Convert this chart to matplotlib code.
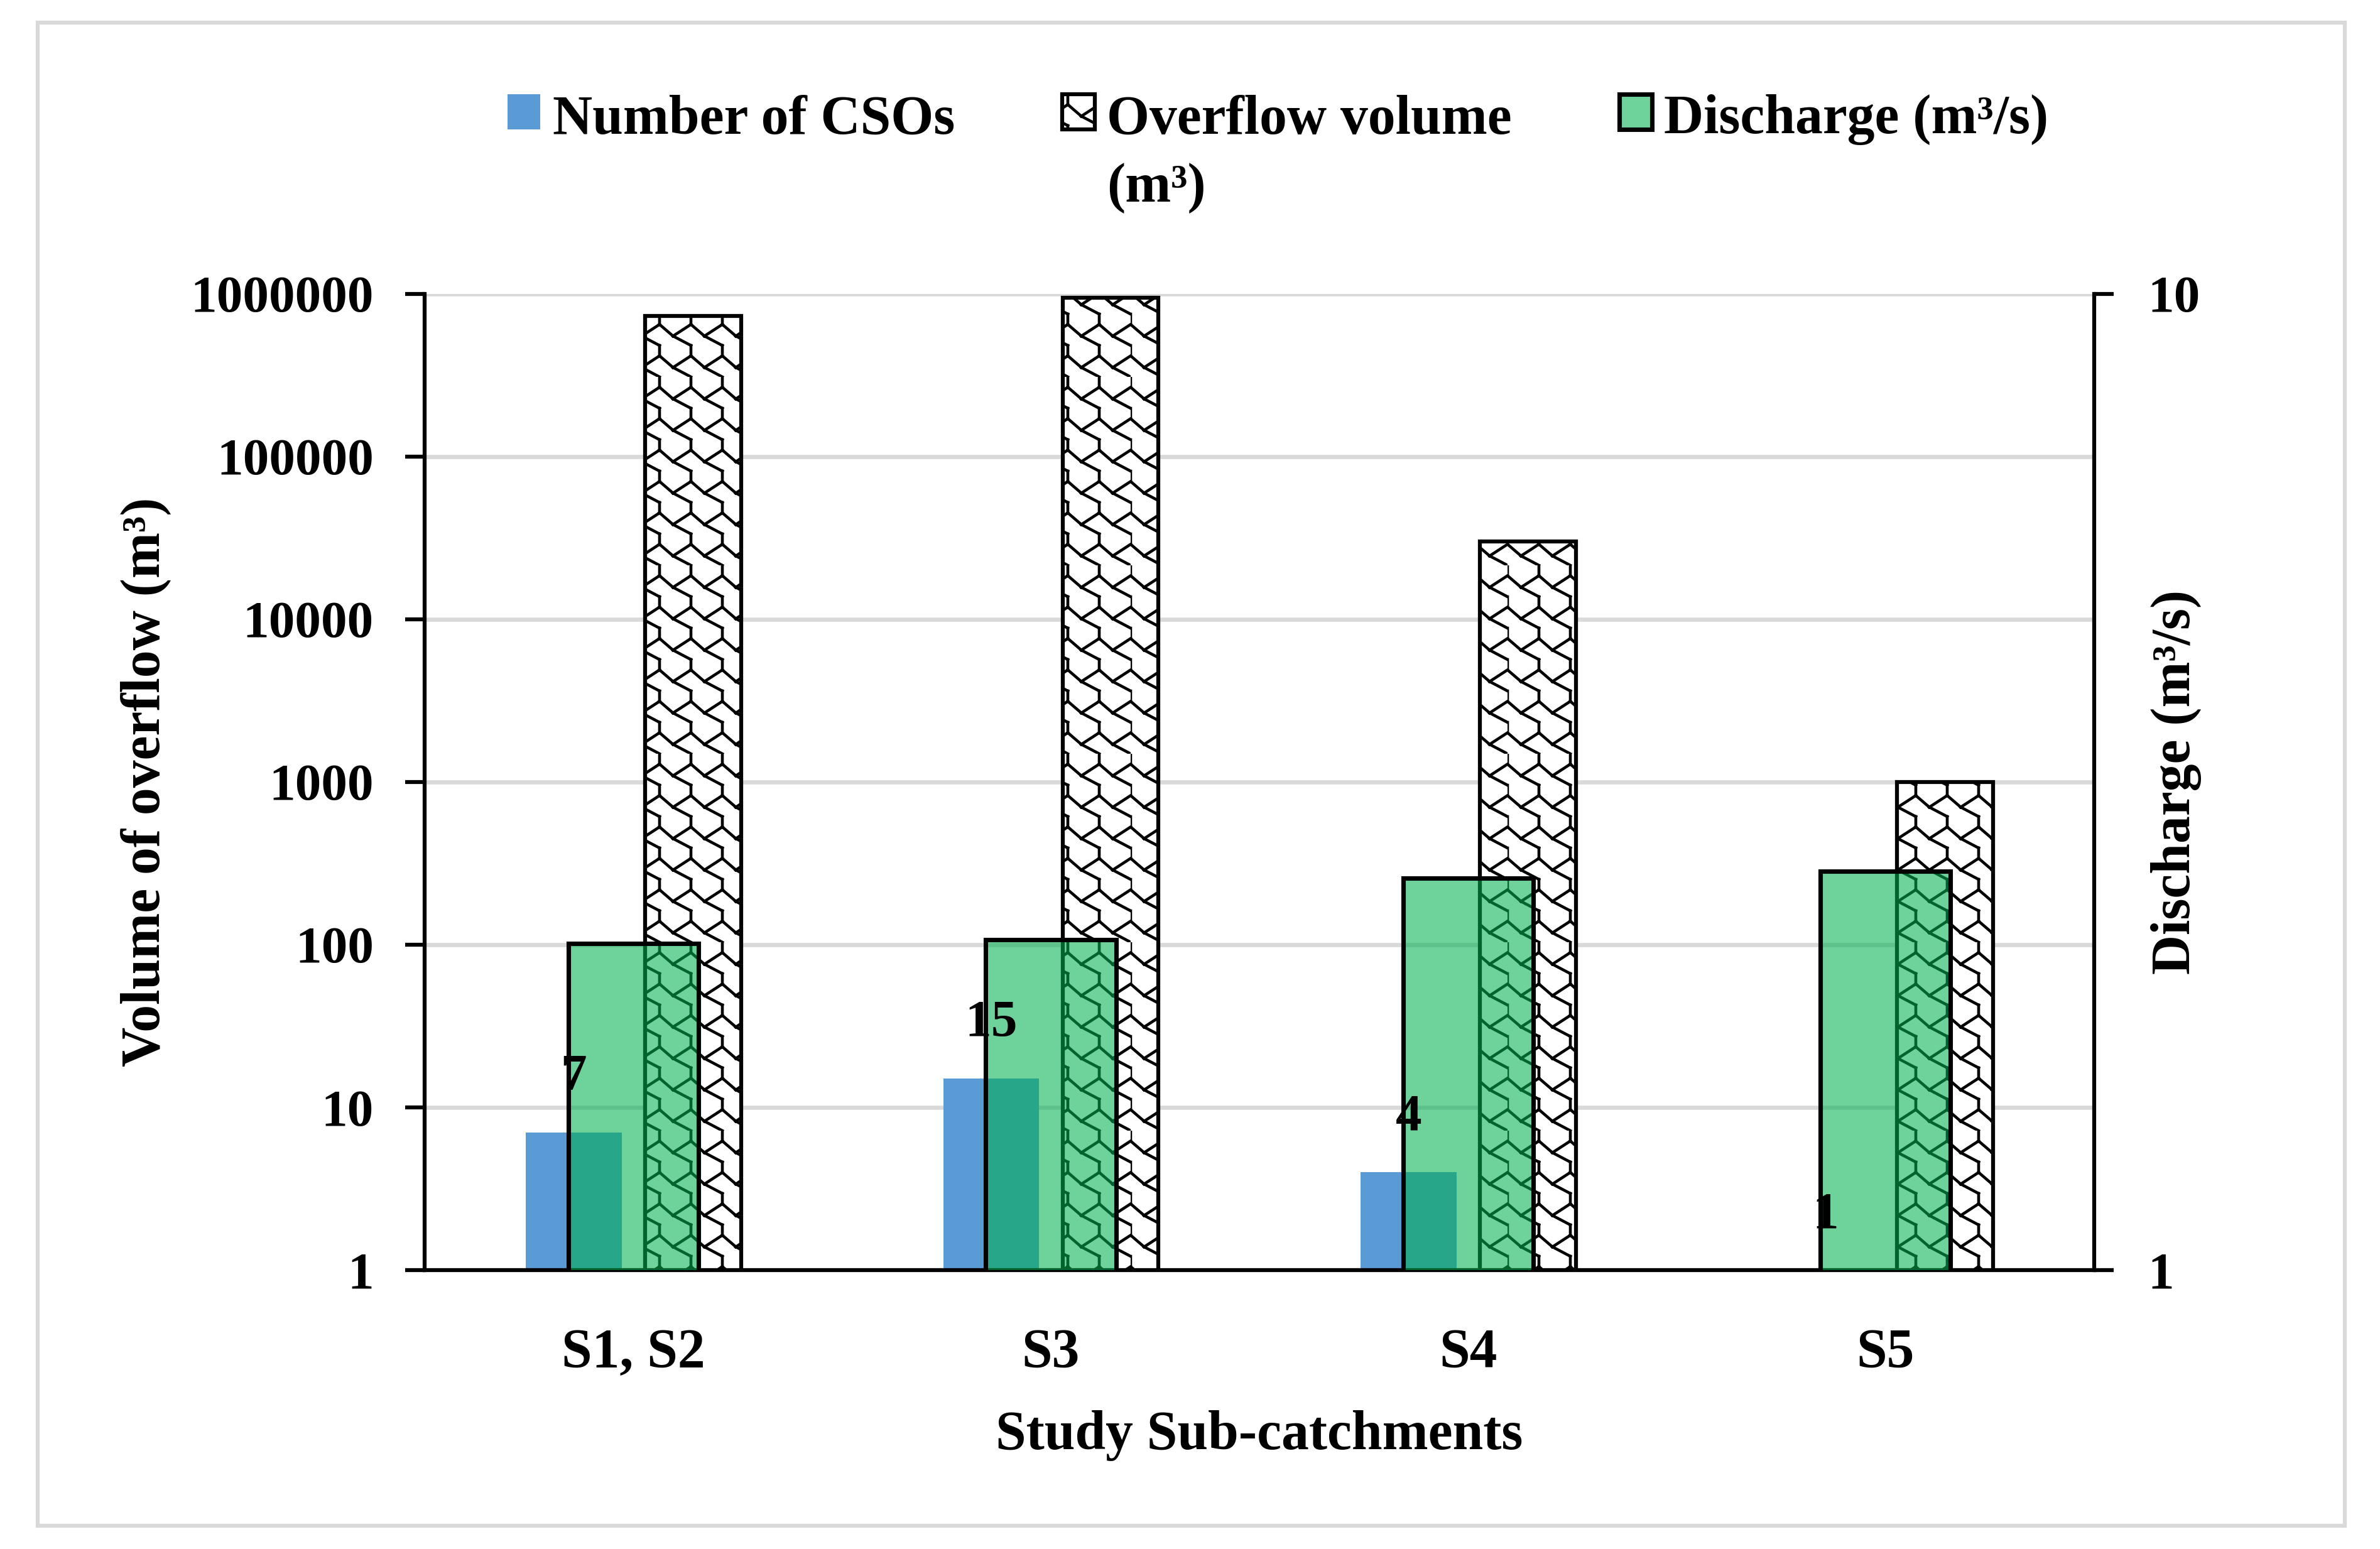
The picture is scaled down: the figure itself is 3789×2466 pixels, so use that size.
import numpy as np
import matplotlib
matplotlib.use('Agg')
import matplotlib.pyplot as plt
import matplotlib.hatch as mhatch
from matplotlib.path import Path
from matplotlib.patches import Patch, Rectangle
from matplotlib.ticker import FixedLocator, NullLocator

# Data
categories = ['S1, S2', 'S3', 'S4', 'S5']
cso_count = [7, 15, 4, 1]
overflow_volume = [733000, 944000, 30000, 1000]
discharge = [2.16, 2.18, 2.52, 2.56]
volume_ticks = [1, 10, 100, 1000, 10000, 100000, 1000000]
discharge_ticks = [1, 10]


# Excel-like "weave" fill, used for '*' instead of the stars pattern
class WeaveHatch(mhatch.HatchPatternBase):
    def __init__(self, hatch, density):
        self.num_cells = hatch.count('*') * density
        self.num_vertices = self.num_cells ** 2 * 8

    def set_vertices_and_codes(self, vertices, codes):
        cell = np.array([[0, 1], [0, 0.67],
                         [0, 0.67], [0.43, 0.30],
                         [0.43, 0.30], [1, 0.67],
                         [0.43, 0.30], [1, 0]])
        n = self.num_cells
        k = 0
        for i in range(n):
            for j in range(n):
                vertices[k:k + 8] = (cell + [i, j]) / n
                codes[k:k + 8] = [Path.MOVETO, Path.LINETO] * 4
                k += 8


mhatch._hatch_types = [WeaveHatch if t is mhatch.Stars else t for t in mhatch._hatch_types]

plt.rcParams['font.family'] = ['Liberation Serif', 'DejaVu Serif']
plt.rcParams['font.weight'] = 'bold'
plt.rcParams['axes.labelweight'] = 'bold'
plt.rcParams['hatch.linewidth'] = 1.1

blue = '#5B9BD5'
green = (0, 176 / 255, 80 / 255, 0.57)

fig = plt.figure(figsize=(3789 / 300, 2466 / 300), dpi=300)
ax = fig.add_axes([0.1785, 0.1800, 0.7014, 0.6304])
ax2 = ax.twinx()

x = np.arange(len(categories))
ax.set_yscale('log')
ax.bar(x + 0.143, overflow_volume, 0.23, color='white', edgecolor='black',
       linewidth=1.5, hatch='*', zorder=2)
ax.bar(x - 0.143, cso_count, 0.23, color=blue, zorder=2)

ax2.set_yscale('log')
ax2.bar(x, discharge, 0.312, color=green, edgecolor='black', linewidth=1.7)

# value labels of the CSO bars, drawn on the top axes so they stay above the green bars
for xi, v in zip(x, cso_count):
    ax2.annotate(str(v), (xi - 0.143, v), xycoords=ax.transData, xytext=(0, 21),
                 textcoords='offset points', ha='center', va='center',
                 fontsize=20, fontweight='bold', zorder=5)

ax.set_xlim(-0.5, 3.5)
ax.set_ylim(1, 1000000)
ax2.set_ylim(1, 10)

ax.yaxis.set_major_locator(FixedLocator(volume_ticks))
ax.yaxis.set_minor_locator(NullLocator())
ax.set_yticklabels([str(t) for t in volume_ticks])
ax2.yaxis.set_major_locator(FixedLocator(discharge_ticks))
ax2.yaxis.set_minor_locator(NullLocator())
ax2.set_yticklabels([str(t) for t in discharge_ticks])

ax.set_xticks(x)
ax.set_xticklabels(categories)
ax.tick_params(axis='x', length=0, pad=22, labelsize=21)
ax.tick_params(axis='y', direction='out', length=7.5, width=1.5, pad=12, labelsize=20)
ax2.tick_params(axis='y', direction='out', length=7.5, width=1.5, pad=13, labelsize=20)

ax.grid(True, axis='y', color='#D9D9D9', linewidth=1.6)
ax.set_axisbelow(True)

for s in ['top', 'right']:
    ax.spines[s].set_visible(False)
for s in ['top', 'left', 'bottom']:
    ax2.spines[s].set_visible(False)
ax.spines['left'].set_linewidth(1.5)
ax.spines['bottom'].set_linewidth(1.5)
ax2.spines['right'].set_linewidth(1.5)

ax.set_xlabel('Study Sub-catchments', fontsize=21, labelpad=12)
ax.set_ylabel('Volume of overflow (m³)', fontsize=21)
ax2.set_ylabel('Discharge (m³/s)', fontsize=21)
ax.yaxis.set_label_coords(-0.152, 0.5)
ax2.yaxis.set_label_coords(1.034, 0.5)

handles = [Patch(facecolor=blue, edgecolor='none'),
           Patch(facecolor='white', edgecolor='black', hatch='*', linewidth=1.5),
           Patch(facecolor=green, edgecolor='black', linewidth=1.7)]
labels = ['Number of CSOs', 'Overflow volume\n(m³)', 'Discharge (m³/s)']
leg = fig.legend(handles, labels, loc='upper center', bbox_to_anchor=(0.537, 0.939),
                 ncol=3, frameon=False, fontsize=21, handlelength=0.6, handleheight=0.6,
                 handletextpad=0.22, columnspacing=1.95, borderpad=0, borderaxespad=0)
for t in leg.get_texts():
    t.set_linespacing(1.45)
# handles sit on the first text line, like in the original
leg._legend_handle_box.align = 'top'
for col in leg._legend_handle_box.get_children():
    for row in col.get_children():
        row.align = 'top'

# light grey frame round the whole chart
fig.add_artist(Rectangle((0.0158, 0.015), 0.9694, 0.9704, transform=fig.transFigure,
                         fill=False, edgecolor='#D9D9D9', linewidth=1.5))

fig.savefig('out.png', dpi=300)
